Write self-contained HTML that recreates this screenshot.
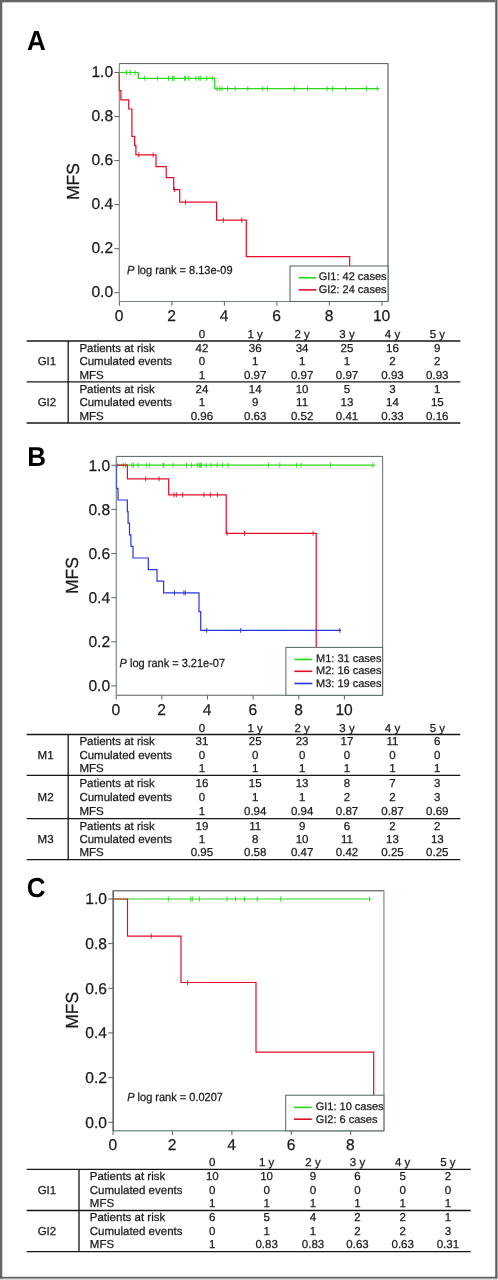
<!DOCTYPE html>
<html><head><meta charset="utf-8"><title>Figure</title>
<style>
html,body{margin:0;padding:0;background:#fff;}
body{width:498px;height:1280px;overflow:hidden;position:relative;font-family:"Liberation Sans",sans-serif;}
svg{position:absolute;left:0;top:0;display:block;will-change:transform;}
svg text{font-family:"Liberation Sans",sans-serif;text-rendering:geometricPrecision;stroke:#1a1a1a;stroke-width:0.25px;}
</style></head><body>
<svg width="498" height="1280" viewBox="0 0 498 1280">
<rect x="0" y="0" width="498" height="1280" fill="#fff"/>
<!-- outer frame -->
<rect x="0" y="0" width="2.3" height="1280" fill="#666"/>
<rect x="0" y="0" width="498" height="2.3" fill="#676767"/>
<rect x="495" y="0" width="1" height="1280" fill="#808080"/>
<rect x="496" y="0" width="1" height="1280" fill="#5e5e5e"/>
<rect x="497" y="0" width="1" height="1280" fill="#a8a8a8"/>
<rect x="0" y="1276.8" width="497" height="1.9" fill="#5e5e5e"/>
<rect x="0" y="1278.7" width="498" height="1.3" fill="#dcdcdc"/>
<text transform="translate(27,49.5) scale(1,1.06)" font-size="26" font-weight="bold" fill="#000" style="stroke:none">A</text>
<text transform="translate(27.2,465.5) scale(1,1.045)" font-size="26" font-weight="bold" fill="#000" style="stroke:none">B</text>
<text transform="translate(26.8,897.2) scale(1,1.06)" font-size="26" font-weight="bold" fill="#000" style="stroke:none">C</text>
<path d="M119.3,63.6H388.0" stroke="#555b5b" stroke-width="1.0"/>
<path d="M388.0,63.1V302.0" stroke="#5a6464" stroke-width="1.2"/>
<path d="M119.3,301.5H388.0" stroke="#6f8585" stroke-width="1.1"/>
<path d="M119.3,63.1V302.0" stroke="#7f8b8b" stroke-width="1.0"/>
<path d="M114.3,72.5H119.3" stroke="#5a6a6a" stroke-width="1.05"/>
<text x="113.1" y="76.60" font-size="15.6" text-anchor="end" fill="#1a1a1a">1.0</text>
<path d="M114.3,116.5H119.3" stroke="#5a6a6a" stroke-width="1.05"/>
<text x="113.1" y="120.64" font-size="15.6" text-anchor="end" fill="#1a1a1a">0.8</text>
<path d="M114.3,160.6H119.3" stroke="#5a6a6a" stroke-width="1.05"/>
<text x="113.1" y="164.68" font-size="15.6" text-anchor="end" fill="#1a1a1a">0.6</text>
<path d="M114.3,204.6H119.3" stroke="#5a6a6a" stroke-width="1.05"/>
<text x="113.1" y="208.72" font-size="15.6" text-anchor="end" fill="#1a1a1a">0.4</text>
<path d="M114.3,248.7H119.3" stroke="#5a6a6a" stroke-width="1.05"/>
<text x="113.1" y="252.76" font-size="15.6" text-anchor="end" fill="#1a1a1a">0.2</text>
<path d="M114.3,292.7H119.3" stroke="#5a6a6a" stroke-width="1.05"/>
<text x="113.1" y="296.80" font-size="15.6" text-anchor="end" fill="#1a1a1a">0.0</text>
<path d="M119.4,301.5V305.7" stroke="#5a6a6a" stroke-width="1.05"/>
<text x="119.1" y="320.9" font-size="15.6" text-anchor="middle" fill="#1a1a1a">0</text>
<path d="M171.9,301.5V305.7" stroke="#5a6a6a" stroke-width="1.05"/>
<text x="171.6" y="320.9" font-size="15.6" text-anchor="middle" fill="#1a1a1a">2</text>
<path d="M224.4,301.5V305.7" stroke="#5a6a6a" stroke-width="1.05"/>
<text x="224.1" y="320.9" font-size="15.6" text-anchor="middle" fill="#1a1a1a">4</text>
<path d="M276.9,301.5V305.7" stroke="#5a6a6a" stroke-width="1.05"/>
<text x="276.6" y="320.9" font-size="15.6" text-anchor="middle" fill="#1a1a1a">6</text>
<path d="M329.4,301.5V305.7" stroke="#5a6a6a" stroke-width="1.05"/>
<text x="329.1" y="320.9" font-size="15.6" text-anchor="middle" fill="#1a1a1a">8</text>
<path d="M381.9,301.5V305.7" stroke="#5a6a6a" stroke-width="1.05"/>
<text x="381.6" y="320.9" font-size="15.6" text-anchor="middle" fill="#1a1a1a">10</text>
<text transform="translate(78.6,181.55) rotate(-90)" font-size="17.5" text-anchor="middle" fill="#1a1a1a">MFS</text>
<path d="M119.3,72.5 L138.3,72.5 L138.3,78.3 L214.7,78.3 L214.7,88.7 L379.4,88.7" stroke="#28d91a" stroke-width="1.2" fill="none" stroke-linejoin="miter"/>
<path d="M126.6,70.0V75.0 M130.3,70.0V75.0 M135.1,70.0V75.0" stroke="#28d91a" stroke-width="0.9" fill="none"/>
<path d="M144.4,75.8V80.8 M157.6,75.8V80.8 M168.5,75.8V80.8 M172.5,75.8V80.8 M174.1,75.8V80.8 M184.6,75.8V80.8 M185.6,75.8V80.8 M188.6,75.8V80.8 M195.9,75.8V80.8 M198.8,75.8V80.8 M200.3,75.8V80.8 M206.5,75.8V80.8 M212.7,75.8V80.8" stroke="#28d91a" stroke-width="0.9" fill="none"/>
<path d="M217.1,86.2V91.2 M219.8,86.2V91.2 M222.0,86.2V91.2 M227.5,86.2V91.2 M235.2,86.2V91.2 M247.8,86.2V91.2 M262.8,86.2V91.2 M267.3,86.2V91.2 M294.4,86.2V91.2 M307.6,86.2V91.2 M327.1,86.2V91.2 M332.6,86.2V91.2 M345.8,86.2V91.2 M366.6,86.2V91.2 M377.2,86.2V91.2" stroke="#28d91a" stroke-width="0.9" fill="none"/>
<path d="M119.3,72.5 L119.3,90.7 L120.9,90.7 L120.9,99.9 L128.7,99.9 L128.7,109.0 L131.9,109.0 L131.9,136.4 L134.6,136.4 L134.6,145.7 L135.9,145.7 L135.9,154.9 L156.0,154.9 L156.0,166.6 L166.2,166.6 L166.2,177.7 L173.7,177.7 L173.7,189.6 L179.7,189.6 L179.7,202.2 L216.6,202.2 L216.6,220.2 L246.3,220.2 L246.3,256.7 L349.7,256.7 L349.7,266.0" stroke="#e30c2a" stroke-width="1.2" fill="none" stroke-linejoin="miter"/>
<path d="M138.8,152.4V157.4 M153.2,152.4V157.4" stroke="#e30c2a" stroke-width="0.9" fill="none"/>
<path d="M174.4,187.1V192.1" stroke="#e30c2a" stroke-width="0.9" fill="none"/>
<path d="M185.5,199.7V204.7" stroke="#e30c2a" stroke-width="0.9" fill="none"/>
<path d="M223.3,217.7V222.7 M241.7,217.7V222.7" stroke="#e30c2a" stroke-width="0.9" fill="none"/>
<path d="M119.3,63.6V301.5" stroke="#7f8b8b" stroke-width="1.0" opacity="0.55"/>
<text transform="translate(127,273.9) scale(1,1.07)" font-size="11" fill="#1a1a1a"><tspan font-style="italic">P</tspan> log rank = 8.13e-09</text>
<rect x="290" y="266" width="98.0" height="35.5" fill="#fff" stroke="#5a6a6a" stroke-width="1.05"/>
<path d="M298.7,277.8H316.4" stroke="#28d91a" stroke-width="1.6"/>
<text x="318.7" y="280.1" font-size="11" fill="#1a1a1a">GI1: 42 cases</text>
<path d="M298.7,289.9H316.4" stroke="#e30c2a" stroke-width="1.6"/>
<text x="318.7" y="293.2" font-size="11" fill="#1a1a1a">GI2: 24 cases</text>
<text x="201.9" y="338" font-size="11.5" text-anchor="middle" fill="#1a1a1a">0</text>
<text x="255.2" y="338" font-size="11.5" text-anchor="middle" fill="#1a1a1a">1 y</text>
<text x="302.1" y="338" font-size="11.5" text-anchor="middle" fill="#1a1a1a">2 y</text>
<text x="347.0" y="338" font-size="11.5" text-anchor="middle" fill="#1a1a1a">3 y</text>
<text x="392.5" y="338" font-size="11.5" text-anchor="middle" fill="#1a1a1a">4 y</text>
<text x="437.3" y="338" font-size="11.5" text-anchor="middle" fill="#1a1a1a">5 y</text>
<path d="M26.7,341.0H460.3" stroke="#161616" stroke-width="1.3"/>
<path d="M26.7,381.8H460.3" stroke="#161616" stroke-width="1.3"/>
<path d="M26.7,423.0H460.3" stroke="#161616" stroke-width="1.3"/>
<path d="M68.2,341.0V423.0" stroke="#161616" stroke-width="1.3"/>
<text x="46.95" y="365.3" font-size="11.5" text-anchor="middle" fill="#1a1a1a">GI1</text>
<text x="79.4" y="351.7" font-size="11.5" fill="#1a1a1a">Patients at risk</text>
<text x="201.9" y="351.7" font-size="11.5" text-anchor="middle" fill="#1a1a1a">42</text>
<text x="255.2" y="351.7" font-size="11.5" text-anchor="middle" fill="#1a1a1a">36</text>
<text x="302.1" y="351.7" font-size="11.5" text-anchor="middle" fill="#1a1a1a">34</text>
<text x="347.0" y="351.7" font-size="11.5" text-anchor="middle" fill="#1a1a1a">25</text>
<text x="392.5" y="351.7" font-size="11.5" text-anchor="middle" fill="#1a1a1a">16</text>
<text x="437.3" y="351.7" font-size="11.5" text-anchor="middle" fill="#1a1a1a">9</text>
<text x="79.4" y="365.3" font-size="11.5" fill="#1a1a1a">Cumulated events</text>
<text x="201.9" y="365.3" font-size="11.5" text-anchor="middle" fill="#1a1a1a">0</text>
<text x="255.2" y="365.3" font-size="11.5" text-anchor="middle" fill="#1a1a1a">1</text>
<text x="302.1" y="365.3" font-size="11.5" text-anchor="middle" fill="#1a1a1a">1</text>
<text x="347.0" y="365.3" font-size="11.5" text-anchor="middle" fill="#1a1a1a">1</text>
<text x="392.5" y="365.3" font-size="11.5" text-anchor="middle" fill="#1a1a1a">2</text>
<text x="437.3" y="365.3" font-size="11.5" text-anchor="middle" fill="#1a1a1a">2</text>
<text x="79.4" y="378.7" font-size="11.5" fill="#1a1a1a">MFS</text>
<text x="201.9" y="378.7" font-size="11.5" text-anchor="middle" fill="#1a1a1a">1</text>
<text x="255.2" y="378.7" font-size="11.5" text-anchor="middle" fill="#1a1a1a">0.97</text>
<text x="302.1" y="378.7" font-size="11.5" text-anchor="middle" fill="#1a1a1a">0.97</text>
<text x="347.0" y="378.7" font-size="11.5" text-anchor="middle" fill="#1a1a1a">0.97</text>
<text x="392.5" y="378.7" font-size="11.5" text-anchor="middle" fill="#1a1a1a">0.93</text>
<text x="437.3" y="378.7" font-size="11.5" text-anchor="middle" fill="#1a1a1a">0.93</text>
<text x="46.95" y="406.3" font-size="11.5" text-anchor="middle" fill="#1a1a1a">GI2</text>
<text x="79.4" y="392.7" font-size="11.5" fill="#1a1a1a">Patients at risk</text>
<text x="201.9" y="392.7" font-size="11.5" text-anchor="middle" fill="#1a1a1a">24</text>
<text x="255.2" y="392.7" font-size="11.5" text-anchor="middle" fill="#1a1a1a">14</text>
<text x="302.1" y="392.7" font-size="11.5" text-anchor="middle" fill="#1a1a1a">10</text>
<text x="347.0" y="392.7" font-size="11.5" text-anchor="middle" fill="#1a1a1a">5</text>
<text x="392.5" y="392.7" font-size="11.5" text-anchor="middle" fill="#1a1a1a">3</text>
<text x="437.3" y="392.7" font-size="11.5" text-anchor="middle" fill="#1a1a1a">1</text>
<text x="79.4" y="406.3" font-size="11.5" fill="#1a1a1a">Cumulated events</text>
<text x="201.9" y="406.3" font-size="11.5" text-anchor="middle" fill="#1a1a1a">1</text>
<text x="255.2" y="406.3" font-size="11.5" text-anchor="middle" fill="#1a1a1a">9</text>
<text x="302.1" y="406.3" font-size="11.5" text-anchor="middle" fill="#1a1a1a">11</text>
<text x="347.0" y="406.3" font-size="11.5" text-anchor="middle" fill="#1a1a1a">13</text>
<text x="392.5" y="406.3" font-size="11.5" text-anchor="middle" fill="#1a1a1a">14</text>
<text x="437.3" y="406.3" font-size="11.5" text-anchor="middle" fill="#1a1a1a">15</text>
<text x="79.4" y="419.7" font-size="11.5" fill="#1a1a1a">MFS</text>
<text x="201.9" y="419.7" font-size="11.5" text-anchor="middle" fill="#1a1a1a">0.96</text>
<text x="255.2" y="419.7" font-size="11.5" text-anchor="middle" fill="#1a1a1a">0.63</text>
<text x="302.1" y="419.7" font-size="11.5" text-anchor="middle" fill="#1a1a1a">0.52</text>
<text x="347.0" y="419.7" font-size="11.5" text-anchor="middle" fill="#1a1a1a">0.41</text>
<text x="392.5" y="419.7" font-size="11.5" text-anchor="middle" fill="#1a1a1a">0.33</text>
<text x="437.3" y="419.7" font-size="11.5" text-anchor="middle" fill="#1a1a1a">0.16</text>
<path d="M116.3,456.4H382.6" stroke="#596060" stroke-width="1.0"/>
<path d="M382.6,455.9V695.8" stroke="#6a7777" stroke-width="1.1"/>
<path d="M116.3,695.3H382.6" stroke="#5a6262" stroke-width="1.1"/>
<path d="M116.3,455.9V695.8" stroke="#7a8585" stroke-width="1.0"/>
<path d="M111.3,465.3H116.3" stroke="#5a6a6a" stroke-width="1.05"/>
<text x="110.1" y="470.70" font-size="15.6" text-anchor="end" fill="#1a1a1a">1.0</text>
<path d="M111.3,509.4H116.3" stroke="#5a6a6a" stroke-width="1.05"/>
<text x="110.1" y="514.82" font-size="15.6" text-anchor="end" fill="#1a1a1a">0.8</text>
<path d="M111.3,553.5H116.3" stroke="#5a6a6a" stroke-width="1.05"/>
<text x="110.1" y="558.94" font-size="15.6" text-anchor="end" fill="#1a1a1a">0.6</text>
<path d="M111.3,597.7H116.3" stroke="#5a6a6a" stroke-width="1.05"/>
<text x="110.1" y="603.06" font-size="15.6" text-anchor="end" fill="#1a1a1a">0.4</text>
<path d="M111.3,641.8H116.3" stroke="#5a6a6a" stroke-width="1.05"/>
<text x="110.1" y="647.18" font-size="15.6" text-anchor="end" fill="#1a1a1a">0.2</text>
<path d="M111.3,685.9H116.3" stroke="#5a6a6a" stroke-width="1.05"/>
<text x="110.1" y="691.30" font-size="15.6" text-anchor="end" fill="#1a1a1a">0.0</text>
<path d="M116.2,695.3V699.5" stroke="#5a6a6a" stroke-width="1.05"/>
<text x="115.9" y="714.7" font-size="15.6" text-anchor="middle" fill="#1a1a1a">0</text>
<path d="M161.8,695.3V699.5" stroke="#5a6a6a" stroke-width="1.05"/>
<text x="161.5" y="714.7" font-size="15.6" text-anchor="middle" fill="#1a1a1a">2</text>
<path d="M207.5,695.3V699.5" stroke="#5a6a6a" stroke-width="1.05"/>
<text x="207.2" y="714.7" font-size="15.6" text-anchor="middle" fill="#1a1a1a">4</text>
<path d="M253.1,695.3V699.5" stroke="#5a6a6a" stroke-width="1.05"/>
<text x="252.8" y="714.7" font-size="15.6" text-anchor="middle" fill="#1a1a1a">6</text>
<path d="M298.8,695.3V699.5" stroke="#5a6a6a" stroke-width="1.05"/>
<text x="298.5" y="714.7" font-size="15.6" text-anchor="middle" fill="#1a1a1a">8</text>
<path d="M344.4,695.3V699.5" stroke="#5a6a6a" stroke-width="1.05"/>
<text x="344.1" y="714.7" font-size="15.6" text-anchor="middle" fill="#1a1a1a">10</text>
<text transform="translate(78.1,575.6499999999999) rotate(-90)" font-size="17.5" text-anchor="middle" fill="#1a1a1a">MFS</text>
<path d="M116.3,465.2 L375.0,465.2" stroke="#28d91a" stroke-width="1.2" fill="none" stroke-linejoin="miter"/>
<path d="M117.2,462.7V467.7 M123.2,462.7V467.7 M125.6,462.7V467.7 M132.0,462.7V467.7 M133.6,462.7V467.7 M138.1,462.7V467.7 M146.6,462.7V467.7 M149.7,462.7V467.7 M163.2,462.7V467.7 M163.9,462.7V467.7 M173.1,462.7V467.7 M186.6,462.7V467.7 M191.5,462.7V467.7 M197.2,462.7V467.7 M199.2,462.7V467.7 M200.3,462.7V467.7 M201.4,462.7V467.7 M206.1,462.7V467.7 M210.9,462.7V467.7 M217.1,462.7V467.7 M222.4,462.7V467.7 M228.2,462.7V467.7 M268.4,462.7V467.7 M279.8,462.7V467.7 M296.6,462.7V467.7 M301.0,462.7V467.7 M330.4,462.7V467.7 M372.8,462.7V467.7" stroke="#28d91a" stroke-width="0.9" fill="none"/>
<path d="M116.3,465.2 L127.4,465.2 L127.4,478.9 L168.7,478.9 L168.7,494.8 L226.2,494.8 L226.2,533.3 L316.2,533.3 L316.2,647.4" stroke="#e30c2a" stroke-width="1.2" fill="none" stroke-linejoin="miter"/>
<path d="M145.7,476.4V481.4 M159.0,476.4V481.4" stroke="#e30c2a" stroke-width="0.9" fill="none"/>
<path d="M173.9,492.3V497.3 M176.3,492.3V497.3 M182.6,492.3V497.3 M203.9,492.3V497.3 M210.3,492.3V497.3 M217.4,492.3V497.3" stroke="#e30c2a" stroke-width="0.9" fill="none"/>
<path d="M227.0,530.8V535.8 M244.5,530.8V535.8 M313.1,530.8V535.8" stroke="#e30c2a" stroke-width="0.9" fill="none"/>
<path d="M116.5,465.2 L116.5,488.4 L118.0,488.4 L118.1,500.0 L127.3,500.0 L127.3,511.6 L128.1,511.6 L128.1,523.2 L129.5,523.2 L129.5,534.8 L130.9,534.8 L130.9,546.4 L133.0,546.4 L133.0,558.0 L148.3,558.0 L148.3,569.6 L157.0,569.6 L157.0,581.2 L163.6,581.2 L163.6,592.8 L199.0,592.8 L199.0,611.6 L200.7,611.6 L200.7,630.4 L341.0,630.4" stroke="#2635e2" stroke-width="1.2" fill="none" stroke-linejoin="miter"/>
<path d="M174.5,590.3V595.3 M183.9,590.3V595.3 M185.3,590.3V595.3" stroke="#2635e2" stroke-width="0.9" fill="none"/>
<path d="M206.7,627.9V632.9 M240.7,627.9V632.9 M339.8,627.9V632.9" stroke="#2635e2" stroke-width="0.9" fill="none"/>
<path d="M116.3,456.4V695.3" stroke="#7a8585" stroke-width="1.0" opacity="0.55"/>
<text transform="translate(119.6,667.1) scale(1,1.07)" font-size="11" fill="#1a1a1a"><tspan font-style="italic">P</tspan> log rank = 3.21e-07</text>
<rect x="285.9" y="647.4" width="96.70000000000005" height="47.89999999999998" fill="#fff" stroke="#5a6a6a" stroke-width="1.05"/>
<path d="M294.4,659.5H312.3" stroke="#28d91a" stroke-width="1.6"/>
<text x="316.0" y="661.5" font-size="11" fill="#1a1a1a">M1: 31 cases</text>
<path d="M294.4,671.3H312.3" stroke="#e30c2a" stroke-width="1.6"/>
<text x="316.0" y="673.8" font-size="11" fill="#1a1a1a">M2: 16 cases</text>
<path d="M294.4,683.5H312.3" stroke="#2635e2" stroke-width="1.6"/>
<text x="316.0" y="686.6" font-size="11" fill="#1a1a1a">M3: 19 cases</text>
<text x="201.9" y="731.5" font-size="11.5" text-anchor="middle" fill="#1a1a1a">0</text>
<text x="255.2" y="731.5" font-size="11.5" text-anchor="middle" fill="#1a1a1a">1 y</text>
<text x="302.1" y="731.5" font-size="11.5" text-anchor="middle" fill="#1a1a1a">2 y</text>
<text x="347.0" y="731.5" font-size="11.5" text-anchor="middle" fill="#1a1a1a">3 y</text>
<text x="392.5" y="731.5" font-size="11.5" text-anchor="middle" fill="#1a1a1a">4 y</text>
<text x="437.3" y="731.5" font-size="11.5" text-anchor="middle" fill="#1a1a1a">5 y</text>
<path d="M26.7,734.5H460.3" stroke="#161616" stroke-width="1.3"/>
<path d="M26.7,775.3H460.3" stroke="#161616" stroke-width="1.3"/>
<path d="M26.7,818.6H460.3" stroke="#161616" stroke-width="1.3"/>
<path d="M26.7,859.7H460.3" stroke="#161616" stroke-width="1.3"/>
<path d="M68.2,734.5V859.7" stroke="#161616" stroke-width="1.3"/>
<text x="45.55" y="758.8" font-size="11.5" text-anchor="middle" fill="#1a1a1a">M1</text>
<text x="79.4" y="745.1" font-size="11.5" fill="#1a1a1a">Patients at risk</text>
<text x="201.9" y="745.1" font-size="11.5" text-anchor="middle" fill="#1a1a1a">31</text>
<text x="255.2" y="745.1" font-size="11.5" text-anchor="middle" fill="#1a1a1a">25</text>
<text x="302.1" y="745.1" font-size="11.5" text-anchor="middle" fill="#1a1a1a">23</text>
<text x="347.0" y="745.1" font-size="11.5" text-anchor="middle" fill="#1a1a1a">17</text>
<text x="392.5" y="745.1" font-size="11.5" text-anchor="middle" fill="#1a1a1a">11</text>
<text x="437.3" y="745.1" font-size="11.5" text-anchor="middle" fill="#1a1a1a">6</text>
<text x="79.4" y="758.8" font-size="11.5" fill="#1a1a1a">Cumulated events</text>
<text x="201.9" y="758.8" font-size="11.5" text-anchor="middle" fill="#1a1a1a">0</text>
<text x="255.2" y="758.8" font-size="11.5" text-anchor="middle" fill="#1a1a1a">0</text>
<text x="302.1" y="758.8" font-size="11.5" text-anchor="middle" fill="#1a1a1a">0</text>
<text x="347.0" y="758.8" font-size="11.5" text-anchor="middle" fill="#1a1a1a">0</text>
<text x="392.5" y="758.8" font-size="11.5" text-anchor="middle" fill="#1a1a1a">0</text>
<text x="437.3" y="758.8" font-size="11.5" text-anchor="middle" fill="#1a1a1a">0</text>
<text x="79.4" y="772.1" font-size="11.5" fill="#1a1a1a">MFS</text>
<text x="201.9" y="772.1" font-size="11.5" text-anchor="middle" fill="#1a1a1a">1</text>
<text x="255.2" y="772.1" font-size="11.5" text-anchor="middle" fill="#1a1a1a">1</text>
<text x="302.1" y="772.1" font-size="11.5" text-anchor="middle" fill="#1a1a1a">1</text>
<text x="347.0" y="772.1" font-size="11.5" text-anchor="middle" fill="#1a1a1a">1</text>
<text x="392.5" y="772.1" font-size="11.5" text-anchor="middle" fill="#1a1a1a">1</text>
<text x="437.3" y="772.1" font-size="11.5" text-anchor="middle" fill="#1a1a1a">1</text>
<text x="45.55" y="801" font-size="11.5" text-anchor="middle" fill="#1a1a1a">M2</text>
<text x="79.4" y="786.9" font-size="11.5" fill="#1a1a1a">Patients at risk</text>
<text x="201.9" y="786.9" font-size="11.5" text-anchor="middle" fill="#1a1a1a">16</text>
<text x="255.2" y="786.9" font-size="11.5" text-anchor="middle" fill="#1a1a1a">15</text>
<text x="302.1" y="786.9" font-size="11.5" text-anchor="middle" fill="#1a1a1a">13</text>
<text x="347.0" y="786.9" font-size="11.5" text-anchor="middle" fill="#1a1a1a">8</text>
<text x="392.5" y="786.9" font-size="11.5" text-anchor="middle" fill="#1a1a1a">7</text>
<text x="437.3" y="786.9" font-size="11.5" text-anchor="middle" fill="#1a1a1a">3</text>
<text x="79.4" y="801" font-size="11.5" fill="#1a1a1a">Cumulated events</text>
<text x="201.9" y="801" font-size="11.5" text-anchor="middle" fill="#1a1a1a">0</text>
<text x="255.2" y="801" font-size="11.5" text-anchor="middle" fill="#1a1a1a">1</text>
<text x="302.1" y="801" font-size="11.5" text-anchor="middle" fill="#1a1a1a">1</text>
<text x="347.0" y="801" font-size="11.5" text-anchor="middle" fill="#1a1a1a">2</text>
<text x="392.5" y="801" font-size="11.5" text-anchor="middle" fill="#1a1a1a">2</text>
<text x="437.3" y="801" font-size="11.5" text-anchor="middle" fill="#1a1a1a">3</text>
<text x="79.4" y="815" font-size="11.5" fill="#1a1a1a">MFS</text>
<text x="201.9" y="815" font-size="11.5" text-anchor="middle" fill="#1a1a1a">1</text>
<text x="255.2" y="815" font-size="11.5" text-anchor="middle" fill="#1a1a1a">0.94</text>
<text x="302.1" y="815" font-size="11.5" text-anchor="middle" fill="#1a1a1a">0.94</text>
<text x="347.0" y="815" font-size="11.5" text-anchor="middle" fill="#1a1a1a">0.87</text>
<text x="392.5" y="815" font-size="11.5" text-anchor="middle" fill="#1a1a1a">0.87</text>
<text x="437.3" y="815" font-size="11.5" text-anchor="middle" fill="#1a1a1a">0.69</text>
<text x="45.55" y="843.2" font-size="11.5" text-anchor="middle" fill="#1a1a1a">M3</text>
<text x="79.4" y="829.5" font-size="11.5" fill="#1a1a1a">Patients at risk</text>
<text x="201.9" y="829.5" font-size="11.5" text-anchor="middle" fill="#1a1a1a">19</text>
<text x="255.2" y="829.5" font-size="11.5" text-anchor="middle" fill="#1a1a1a">11</text>
<text x="302.1" y="829.5" font-size="11.5" text-anchor="middle" fill="#1a1a1a">9</text>
<text x="347.0" y="829.5" font-size="11.5" text-anchor="middle" fill="#1a1a1a">6</text>
<text x="392.5" y="829.5" font-size="11.5" text-anchor="middle" fill="#1a1a1a">2</text>
<text x="437.3" y="829.5" font-size="11.5" text-anchor="middle" fill="#1a1a1a">2</text>
<text x="79.4" y="843.2" font-size="11.5" fill="#1a1a1a">Cumulated events</text>
<text x="201.9" y="843.2" font-size="11.5" text-anchor="middle" fill="#1a1a1a">1</text>
<text x="255.2" y="843.2" font-size="11.5" text-anchor="middle" fill="#1a1a1a">8</text>
<text x="302.1" y="843.2" font-size="11.5" text-anchor="middle" fill="#1a1a1a">10</text>
<text x="347.0" y="843.2" font-size="11.5" text-anchor="middle" fill="#1a1a1a">11</text>
<text x="392.5" y="843.2" font-size="11.5" text-anchor="middle" fill="#1a1a1a">13</text>
<text x="437.3" y="843.2" font-size="11.5" text-anchor="middle" fill="#1a1a1a">13</text>
<text x="79.4" y="856.4" font-size="11.5" fill="#1a1a1a">MFS</text>
<text x="201.9" y="856.4" font-size="11.5" text-anchor="middle" fill="#1a1a1a">0.95</text>
<text x="255.2" y="856.4" font-size="11.5" text-anchor="middle" fill="#1a1a1a">0.58</text>
<text x="302.1" y="856.4" font-size="11.5" text-anchor="middle" fill="#1a1a1a">0.47</text>
<text x="347.0" y="856.4" font-size="11.5" text-anchor="middle" fill="#1a1a1a">0.42</text>
<text x="392.5" y="856.4" font-size="11.5" text-anchor="middle" fill="#1a1a1a">0.25</text>
<text x="437.3" y="856.4" font-size="11.5" text-anchor="middle" fill="#1a1a1a">0.25</text>
<path d="M113.2,890.8H383.9" stroke="#3a3e3e" stroke-width="1.0"/>
<path d="M383.9,890.3V1131.3" stroke="#869797" stroke-width="1.3"/>
<path d="M113.2,1130.8H383.9" stroke="#869898" stroke-width="1.4"/>
<path d="M113.2,890.3V1131.3" stroke="#565a5a" stroke-width="1.3"/>
<path d="M108.2,899.0H113.2" stroke="#5a6a6a" stroke-width="1.05"/>
<text x="107.0" y="904.30" font-size="15.6" text-anchor="end" fill="#1a1a1a">1.0</text>
<path d="M108.2,943.6H113.2" stroke="#5a6a6a" stroke-width="1.05"/>
<text x="107.0" y="948.94" font-size="15.6" text-anchor="end" fill="#1a1a1a">0.8</text>
<path d="M108.2,988.3H113.2" stroke="#5a6a6a" stroke-width="1.05"/>
<text x="107.0" y="993.58" font-size="15.6" text-anchor="end" fill="#1a1a1a">0.6</text>
<path d="M108.2,1032.9H113.2" stroke="#5a6a6a" stroke-width="1.05"/>
<text x="107.0" y="1038.22" font-size="15.6" text-anchor="end" fill="#1a1a1a">0.4</text>
<path d="M108.2,1077.6H113.2" stroke="#5a6a6a" stroke-width="1.05"/>
<text x="107.0" y="1082.86" font-size="15.6" text-anchor="end" fill="#1a1a1a">0.2</text>
<path d="M108.2,1122.2H113.2" stroke="#5a6a6a" stroke-width="1.05"/>
<text x="107.0" y="1127.50" font-size="15.6" text-anchor="end" fill="#1a1a1a">0.0</text>
<path d="M113.1,1130.8V1135.0" stroke="#5a6a6a" stroke-width="1.05"/>
<text x="112.8" y="1150.2" font-size="15.6" text-anchor="middle" fill="#1a1a1a">0</text>
<path d="M172.5,1130.8V1135.0" stroke="#5a6a6a" stroke-width="1.05"/>
<text x="172.2" y="1150.2" font-size="15.6" text-anchor="middle" fill="#1a1a1a">2</text>
<path d="M231.9,1130.8V1135.0" stroke="#5a6a6a" stroke-width="1.05"/>
<text x="231.6" y="1150.2" font-size="15.6" text-anchor="middle" fill="#1a1a1a">4</text>
<path d="M291.3,1130.8V1135.0" stroke="#5a6a6a" stroke-width="1.05"/>
<text x="291.0" y="1150.2" font-size="15.6" text-anchor="middle" fill="#1a1a1a">6</text>
<path d="M350.7,1130.8V1135.0" stroke="#5a6a6a" stroke-width="1.05"/>
<text x="350.4" y="1150.2" font-size="15.6" text-anchor="middle" fill="#1a1a1a">8</text>
<text transform="translate(78.0,1010.4) rotate(-90)" font-size="17.5" text-anchor="middle" fill="#1a1a1a">MFS</text>
<path d="M113.2,899.0 L371.6,899.0" stroke="#28d91a" stroke-width="1.2" fill="none" stroke-linejoin="miter"/>
<path d="M168.3,896.5V901.5 M190.8,896.5V901.5 M192.3,896.5V901.5 M199.3,896.5V901.5 M227.0,896.5V901.5 M235.4,896.5V901.5 M244.5,896.5V901.5 M257.2,896.5V901.5 M280.7,896.5V901.5 M369.5,896.5V901.5" stroke="#28d91a" stroke-width="0.9" fill="none"/>
<path d="M113.2,899.0 L127.5,899.0 L127.5,936.1 L181.0,936.1 L181.0,982.5 L256.0,982.5 L256.0,1052.2 L373.7,1052.2 L373.7,1095.2" stroke="#e30c2a" stroke-width="1.2" fill="none" stroke-linejoin="miter"/>
<path d="M151.1,933.6V938.6" stroke="#e30c2a" stroke-width="0.9" fill="none"/>
<path d="M187.4,980.0V985.0" stroke="#e30c2a" stroke-width="0.9" fill="none"/>
<path d="M113.2,890.8V1130.8" stroke="#565a5a" stroke-width="1.3" opacity="0.55"/>
<text transform="translate(127.2,1101.4) scale(1,1.07)" font-size="11" fill="#1a1a1a"><tspan font-style="italic">P</tspan> log rank = 0.0207</text>
<rect x="285.7" y="1095.2" width="98.19999999999999" height="35.59999999999991" fill="#fff" stroke="#5a6a6a" stroke-width="1.05"/>
<path d="M294,1107.4H311.8" stroke="#28d91a" stroke-width="1.6"/>
<text x="315.7" y="1110.3" font-size="11" fill="#1a1a1a">GI1: 10 cases</text>
<path d="M294,1119.2H311.8" stroke="#e30c2a" stroke-width="1.6"/>
<text x="315.7" y="1122.8" font-size="11" fill="#1a1a1a">GI2: 6 cases</text>
<text x="212.3" y="1166" font-size="11.5" text-anchor="middle" fill="#1a1a1a">0</text>
<text x="266.6" y="1166" font-size="11.5" text-anchor="middle" fill="#1a1a1a">1 y</text>
<text x="313.0" y="1166" font-size="11.5" text-anchor="middle" fill="#1a1a1a">2 y</text>
<text x="357.5" y="1166" font-size="11.5" text-anchor="middle" fill="#1a1a1a">3 y</text>
<text x="402.7" y="1166" font-size="11.5" text-anchor="middle" fill="#1a1a1a">4 y</text>
<text x="447.9" y="1166" font-size="11.5" text-anchor="middle" fill="#1a1a1a">5 y</text>
<path d="M26.7,1169.4H470.7" stroke="#161616" stroke-width="1.3"/>
<path d="M26.7,1210.5H470.7" stroke="#161616" stroke-width="1.3"/>
<path d="M26.7,1251.6H470.7" stroke="#161616" stroke-width="1.3"/>
<path d="M79,1169.4V1251.6" stroke="#161616" stroke-width="1.3"/>
<text x="46.95" y="1194.1" font-size="11.5" text-anchor="middle" fill="#1a1a1a">GI1</text>
<text x="89.8" y="1180.3" font-size="11.5" fill="#1a1a1a">Patients at risk</text>
<text x="212.3" y="1180.3" font-size="11.5" text-anchor="middle" fill="#1a1a1a">10</text>
<text x="266.6" y="1180.3" font-size="11.5" text-anchor="middle" fill="#1a1a1a">10</text>
<text x="313.0" y="1180.3" font-size="11.5" text-anchor="middle" fill="#1a1a1a">9</text>
<text x="357.5" y="1180.3" font-size="11.5" text-anchor="middle" fill="#1a1a1a">6</text>
<text x="402.7" y="1180.3" font-size="11.5" text-anchor="middle" fill="#1a1a1a">5</text>
<text x="447.9" y="1180.3" font-size="11.5" text-anchor="middle" fill="#1a1a1a">2</text>
<text x="89.8" y="1194.1" font-size="11.5" fill="#1a1a1a">Cumulated events</text>
<text x="212.3" y="1194.1" font-size="11.5" text-anchor="middle" fill="#1a1a1a">0</text>
<text x="266.6" y="1194.1" font-size="11.5" text-anchor="middle" fill="#1a1a1a">0</text>
<text x="313.0" y="1194.1" font-size="11.5" text-anchor="middle" fill="#1a1a1a">0</text>
<text x="357.5" y="1194.1" font-size="11.5" text-anchor="middle" fill="#1a1a1a">0</text>
<text x="402.7" y="1194.1" font-size="11.5" text-anchor="middle" fill="#1a1a1a">0</text>
<text x="447.9" y="1194.1" font-size="11.5" text-anchor="middle" fill="#1a1a1a">0</text>
<text x="89.8" y="1207.1" font-size="11.5" fill="#1a1a1a">MFS</text>
<text x="212.3" y="1207.1" font-size="11.5" text-anchor="middle" fill="#1a1a1a">1</text>
<text x="266.6" y="1207.1" font-size="11.5" text-anchor="middle" fill="#1a1a1a">1</text>
<text x="313.0" y="1207.1" font-size="11.5" text-anchor="middle" fill="#1a1a1a">1</text>
<text x="357.5" y="1207.1" font-size="11.5" text-anchor="middle" fill="#1a1a1a">1</text>
<text x="402.7" y="1207.1" font-size="11.5" text-anchor="middle" fill="#1a1a1a">1</text>
<text x="447.9" y="1207.1" font-size="11.5" text-anchor="middle" fill="#1a1a1a">1</text>
<text x="46.95" y="1235.2" font-size="11.5" text-anchor="middle" fill="#1a1a1a">GI2</text>
<text x="89.8" y="1221.4" font-size="11.5" fill="#1a1a1a">Patients at risk</text>
<text x="212.3" y="1221.4" font-size="11.5" text-anchor="middle" fill="#1a1a1a">6</text>
<text x="266.6" y="1221.4" font-size="11.5" text-anchor="middle" fill="#1a1a1a">5</text>
<text x="313.0" y="1221.4" font-size="11.5" text-anchor="middle" fill="#1a1a1a">4</text>
<text x="357.5" y="1221.4" font-size="11.5" text-anchor="middle" fill="#1a1a1a">2</text>
<text x="402.7" y="1221.4" font-size="11.5" text-anchor="middle" fill="#1a1a1a">2</text>
<text x="447.9" y="1221.4" font-size="11.5" text-anchor="middle" fill="#1a1a1a">1</text>
<text x="89.8" y="1235.2" font-size="11.5" fill="#1a1a1a">Cumulated events</text>
<text x="212.3" y="1235.2" font-size="11.5" text-anchor="middle" fill="#1a1a1a">0</text>
<text x="266.6" y="1235.2" font-size="11.5" text-anchor="middle" fill="#1a1a1a">1</text>
<text x="313.0" y="1235.2" font-size="11.5" text-anchor="middle" fill="#1a1a1a">1</text>
<text x="357.5" y="1235.2" font-size="11.5" text-anchor="middle" fill="#1a1a1a">2</text>
<text x="402.7" y="1235.2" font-size="11.5" text-anchor="middle" fill="#1a1a1a">2</text>
<text x="447.9" y="1235.2" font-size="11.5" text-anchor="middle" fill="#1a1a1a">3</text>
<text x="89.8" y="1248.4" font-size="11.5" fill="#1a1a1a">MFS</text>
<text x="212.3" y="1248.4" font-size="11.5" text-anchor="middle" fill="#1a1a1a">1</text>
<text x="266.6" y="1248.4" font-size="11.5" text-anchor="middle" fill="#1a1a1a">0.83</text>
<text x="313.0" y="1248.4" font-size="11.5" text-anchor="middle" fill="#1a1a1a">0.83</text>
<text x="357.5" y="1248.4" font-size="11.5" text-anchor="middle" fill="#1a1a1a">0.63</text>
<text x="402.7" y="1248.4" font-size="11.5" text-anchor="middle" fill="#1a1a1a">0.63</text>
<text x="447.9" y="1248.4" font-size="11.5" text-anchor="middle" fill="#1a1a1a">0.31</text>
</svg>
</body></html>
